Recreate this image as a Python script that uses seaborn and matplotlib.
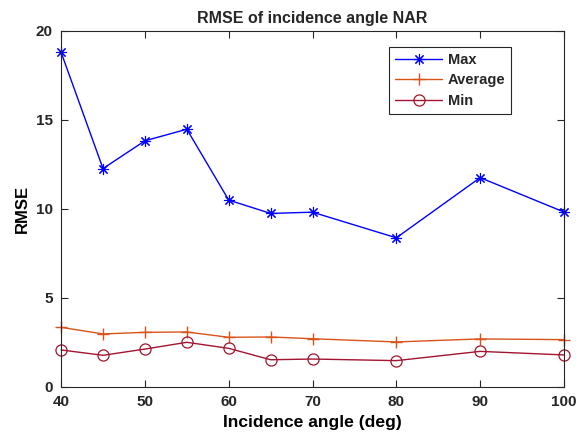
import matplotlib
matplotlib.use("Agg")
import matplotlib.pyplot as plt
import seaborn as sns
import pandas as pd

angles = [40, 45, 50, 55, 60, 65, 70, 80, 90, 100]
rmse_max = [18.8, 12.27, 13.83, 14.48, 10.5, 9.75, 9.82, 8.38, 11.76, 9.83]
rmse_avg = [3.35, 2.98, 3.07, 3.09, 2.79, 2.81, 2.71, 2.53, 2.70, 2.66]
rmse_min = [2.08, 1.78, 2.13, 2.51, 2.17, 1.53, 1.57, 1.48, 2.00, 1.80]

sns.set_theme(style="ticks")
plt.rcParams["font.family"] = ["Liberation Sans", "DejaVu Sans"]
plt.rcParams["font.weight"] = "bold"

fig = plt.figure(figsize=(5.82, 4.40), dpi=100)
ax = fig.add_axes([0.105, 0.1205, 0.864, 0.8091])

edge = "#262626"
series = [
    ("Max", rmse_max, "#0000ff", dict(marker=(8, 2, 0), markersize=8, markeredgewidth=0.8)),
    ("Average", rmse_avg, "#d95319", dict(marker="+", markersize=9, markeredgewidth=1.0)),
    ("Min", rmse_min, "#a2142f", dict(marker="o", markersize=8, markerfacecolor="none", markeredgewidth=0.9)),
]
for name, vals, col, mk in series:
    df = pd.DataFrame({"angle": angles, "rmse": vals})
    sns.lineplot(data=df, x="angle", y="rmse", ax=ax, color=col, lw=1.0,
                 label=name, markeredgecolor=col, clip_on=False, **mk)

ax.set_xlim(40, 100)
ax.set_ylim(0, 20)
ax.set_xticks([40, 50, 60, 70, 80, 90, 100])
ax.set_yticks([0, 5, 10, 15, 20])
ax.tick_params(direction="in", length=5, width=0.8, colors=edge, labelsize=11,
               top=True, right=True, pad=6)
for lab in ax.get_xticklabels() + ax.get_yticklabels():
    lab.set_fontweight("bold")
for s in ax.spines.values():
    s.set_visible(True)
    s.set_color(edge)
    s.set_linewidth(0.8)

ax.set_xlabel("Incidence angle (deg)", fontsize=12.6, fontweight="bold", color="black", labelpad=4)
ax.set_ylabel("RMSE", fontsize=12, fontweight="bold", color="black", labelpad=4)
ax.set_title("RMSE of incidence angle NAR", fontsize=11.5, fontweight="bold", pad=6)

leg = ax.legend(loc="upper right", bbox_to_anchor=(0.895, 0.955), borderaxespad=0,
                fancybox=False, edgecolor=edge, framealpha=1, prop={"weight": "bold", "size": 10.5},
                handlelength=3.2, labelspacing=0.45, borderpad=0.4, handletextpad=0.4)
leg.get_frame().set_linewidth(0.8)

fig.savefig("out.png", dpi=100)
